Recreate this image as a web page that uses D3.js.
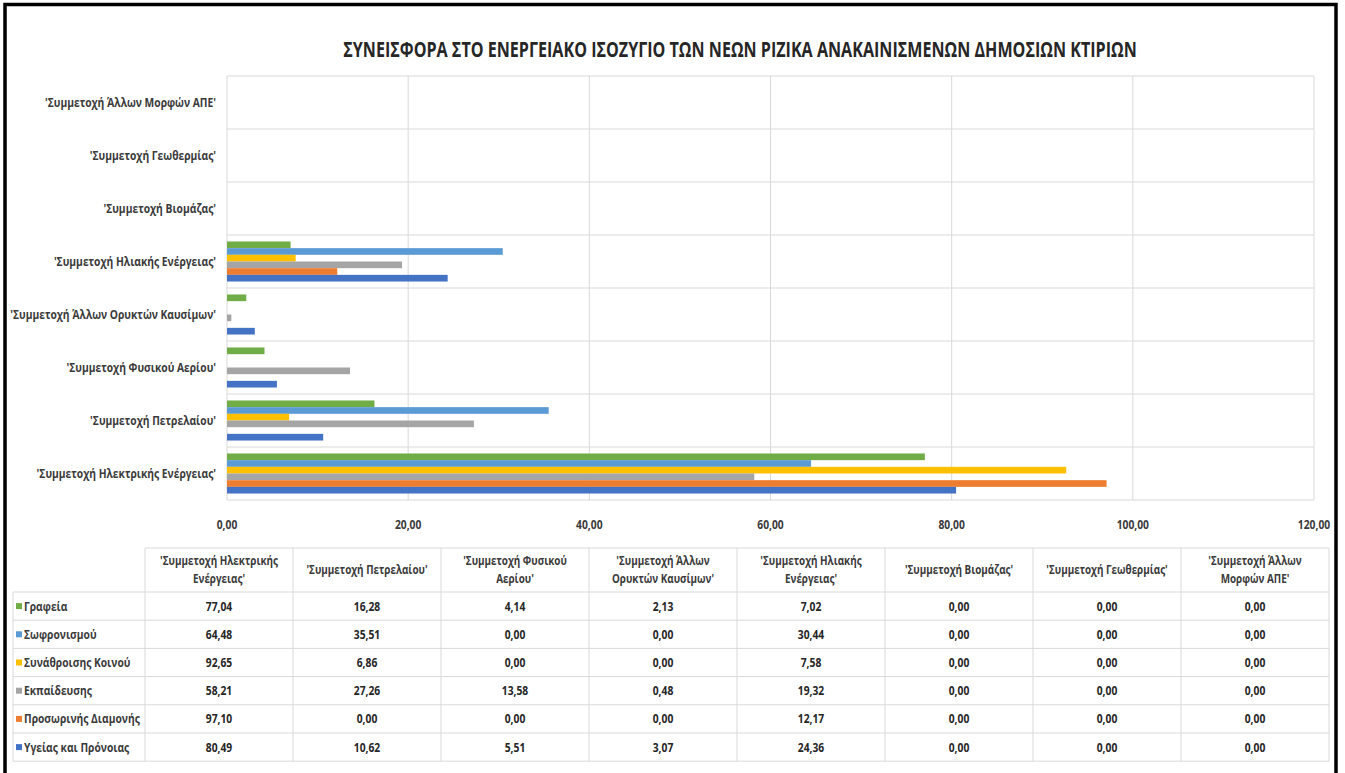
<!DOCTYPE html>
<html>
<head>
<meta charset="utf-8">
<script src="https://cdn.jsdelivr.net/npm/d3@7"></script>
<style>
  html, body { margin: 0; padding: 0; background: #ffffff; }
  svg { display: block; }
  text { font-family: "Open Sans", "Noto Sans", sans-serif; }
</style>
</head>
<body>
<svg id="chart" width="1345" height="773"></svg>
<script>
// ---------------- DATA ----------------
const title = "ΣΥΝΕΙΣΦΟΡΑ ΣΤΟ ΕΝΕΡΓΕΙΑΚΟ ΙΣΟΖΥΓΙΟ ΤΩΝ ΝΕΩΝ ΡΙΖΙΚΑ ΑΝΑΚΑΙΝΙΣΜΕΝΩΝ ΔΗΜΟΣΙΩΝ ΚΤΙΡΙΩΝ";

const categories = [
  "'Συμμετοχή Ηλεκτρικής Ενέργειας'",
  "'Συμμετοχή Πετρελαίου'",
  "'Συμμετοχή Φυσικού Αερίου'",
  "'Συμμετοχή Άλλων Ορυκτών Καυσίμων'",
  "'Συμμετοχή Ηλιακής Ενέργειας'",
  "'Συμμετοχή Βιομάζας'",
  "'Συμμετοχή Γεωθερμίας'",
  "'Συμμετοχή Άλλων Μορφών ΑΠΕ'"
];

const seriesNames = [
  "Γραφεία",
  "Σωφρονισμού",
  "Συνάθροισης Κοινού",
  "Εκπαίδευσης",
  "Προσωρινής Διαμονής",
  "Υγείας και Πρόνοιας"
];

const grafeia      = [77.04, 16.28, 4.14, 2.13, 7.02, 0, 0, 0];
const sofronismou  = [64.48, 35.51, 0.00, 0.00, 30.44, 0, 0, 0];
const synathroisis = [92.65, 6.86, 0.00, 0.00, 7.58, 0, 0, 0];
const ekpaideusis  = [58.21, 27.26, 13.58, 0.48, 19.32, 0, 0, 0];
const prosorinis   = [97.10, 0.00, 0.00, 0.00, 12.17, 0, 0, 0];
const ygeias       = [80.49, 10.62, 5.51, 3.07, 24.36, 0, 0, 0];

const seriesValues = [grafeia, sofronismou, synathroisis, ekpaideusis, prosorinis, ygeias];
const seriesColors = ["#70ad47", "#5b9bd5", "#ffc000", "#a5a5a5", "#ed7d31", "#4472c4"];

const xTicks = [0, 20, 40, 60, 80, 100, 120];

// ---------------- LAYOUT ----------------
const svg = d3.select("#chart");
const W = 1345, H = 773;
const plot = { left: 227, right: 1314, top: 76, bottom: 500 };
const table = { labelLeft: 13, left: 145, right: 1329, headTop: 548, headBottom: 592, rowH: 28.2 };
const textColor = "#3a3a3a";
const gridColor = "#d9d9d9";
const CONDENSE = 0.79;

function condense(sel, factor) {
  sel.each(function () {
    const len = this.getComputedTextLength();
    if (len > 0) {
      d3.select(this).attr("textLength", len * (factor || CONDENSE)).attr("lengthAdjust", "spacingAndGlyphs");
    }
  });
  return sel;
}
const fmt = v => d3.format(".2f")(v).replace(".", ",");

svg.append("rect").attr("width", W).attr("height", H).attr("fill", "#ffffff");

// Title (horizontally condensed through a transform so its box is exact)
const titleG = svg.append("g");
const titleT = titleG.append("text")
  .attr("x", 0).attr("y", 0)
  .attr("text-anchor", "middle")
  .attr("font-size", 21).attr("font-weight", 700)
  .attr("fill", "#262626")
  .text(title);
const titleLen = titleT.node().getComputedTextLength();
titleG.attr("transform", `translate(740,57) scale(${794 / titleLen},1)`);

// Scales
const x = d3.scaleLinear().domain([0, 120]).range([plot.left, plot.right]);
const y = d3.scaleBand().domain(categories.slice().reverse()).range([plot.top, plot.bottom]).padding(0);
const yInner = d3.scaleBand().domain(seriesNames).range([0, y.bandwidth()]).paddingInner(0).paddingOuter(0.97);

// Gridlines
const g = svg.append("g");
g.selectAll("line.vgrid").data(xTicks).join("line")
  .attr("class", "vgrid")
  .attr("x1", d => x(d)).attr("x2", d => x(d))
  .attr("y1", plot.top).attr("y2", plot.bottom)
  .attr("stroke", gridColor).attr("stroke-width", 1);
const bandEdges = categories.map(c => y(c)).concat([plot.bottom]);
g.selectAll("line.hgrid").data(bandEdges).join("line")
  .attr("class", "hgrid")
  .attr("x1", plot.left).attr("x2", plot.right)
  .attr("y1", d => d).attr("y2", d => d)
  .attr("stroke", gridColor).attr("stroke-width", 1);

// Bars
const bars = svg.append("g");
seriesNames.forEach((s, si) => {
  bars.selectAll(null).data(categories.map((c, ci) => ({ c, v: seriesValues[si][ci] })))
    .join("rect")
    .attr("x", x(0))
    .attr("y", d => y(d.c) + yInner(s))
    .attr("width", d => x(d.v) - x(0))
    .attr("height", yInner.bandwidth())
    .attr("fill", seriesColors[si]);
});

// Category labels
svg.append("g").selectAll("text").data(categories).join("text")
  .attr("x", 216)
  .attr("y", d => y(d) + y.bandwidth() / 2)
  .attr("dy", "0.35em")
  .attr("text-anchor", "end")
  .attr("font-size", 13).attr("font-weight", 700)
  .attr("fill", textColor)
  .text(d => d)
  .call(condense);

// X axis tick labels
svg.append("g").selectAll("text").data(xTicks).join("text")
  .attr("x", d => x(d))
  .attr("y", 524)
  .attr("dy", "0.35em")
  .attr("text-anchor", "middle")
  .attr("font-size", 13).attr("font-weight", 700)
  .attr("fill", textColor)
  .text(d => fmt(d))
  .call(condense);

// ---------------- DATA TABLE ----------------
const col = d3.scaleBand().domain(categories).range([table.left, table.right]).padding(0);
const rowTop = i => table.headBottom + i * table.rowH;
const tableBottom = rowTop(seriesNames.length);
const tg = svg.append("g");

tg.append("line")
  .attr("x1", table.left).attr("x2", table.right)
  .attr("y1", table.headTop).attr("y2", table.headTop)
  .attr("stroke", gridColor);
tg.selectAll("line.hrow").data(d3.range(seriesNames.length + 1)).join("line")
  .attr("class", "hrow")
  .attr("x1", table.labelLeft).attr("x2", table.right)
  .attr("y1", i => rowTop(i)).attr("y2", i => rowTop(i))
  .attr("stroke", gridColor);
const colEdges = categories.map(c => col(c)).concat([table.right]);
tg.selectAll("line.vcol").data(colEdges).join("line")
  .attr("class", "vcol")
  .attr("x1", d => d).attr("x2", d => d)
  .attr("y1", table.headTop).attr("y2", tableBottom)
  .attr("stroke", gridColor);
tg.append("line")
  .attr("x1", table.labelLeft).attr("x2", table.labelLeft)
  .attr("y1", table.headBottom).attr("y2", tableBottom)
  .attr("stroke", gridColor);

// header texts
categories.forEach(c => {
  const words = c.split(" ");
  const lines = words.length > 2 ? [words.slice(0, 2).join(" "), words.slice(2).join(" ")] : [c];
  const cx = col(c) + col.bandwidth() / 2;
  const cy = (table.headTop + table.headBottom) / 2;
  const lh = 18;
  lines.forEach((ln, li) => {
    tg.append("text")
      .attr("x", cx)
      .attr("y", cy + (li - (lines.length - 1) / 2) * lh)
      .attr("dy", "0.35em")
      .attr("text-anchor", "middle")
      .attr("font-size", 12.5).attr("font-weight", 700)
      .attr("fill", textColor)
      .text(ln)
      .call(condense);
  });
});

// rows
seriesNames.forEach((s, si) => {
  const cy = rowTop(si) + table.rowH / 2;
  tg.append("rect")
    .attr("x", 16).attr("y", cy - 3).attr("width", 6).attr("height", 6)
    .attr("fill", seriesColors[si]);
  tg.append("text")
    .attr("x", 24).attr("y", cy).attr("dy", "0.35em")
    .attr("font-size", 13).attr("font-weight", 700)
    .attr("fill", textColor)
    .text(s)
    .call(condense);
  categories.forEach((c, ci) => {
    tg.append("text")
      .attr("x", col(c) + col.bandwidth() / 2)
      .attr("y", cy).attr("dy", "0.35em")
      .attr("text-anchor", "middle")
      .attr("font-size", 13).attr("font-weight", 700)
      .attr("fill", "#262626")
      .text(fmt(seriesValues[si][ci]))
      .call(condense);
  });
});

// Outer frame (black border, cut at bottom)
svg.append("path")
  .attr("d", `M5,${H + 5} V4.5 H1336 V${H + 5}`)
  .attr("fill", "none")
  .attr("stroke", "#000")
  .attr("stroke-width", 3.5);
</script>
</body>
</html>
